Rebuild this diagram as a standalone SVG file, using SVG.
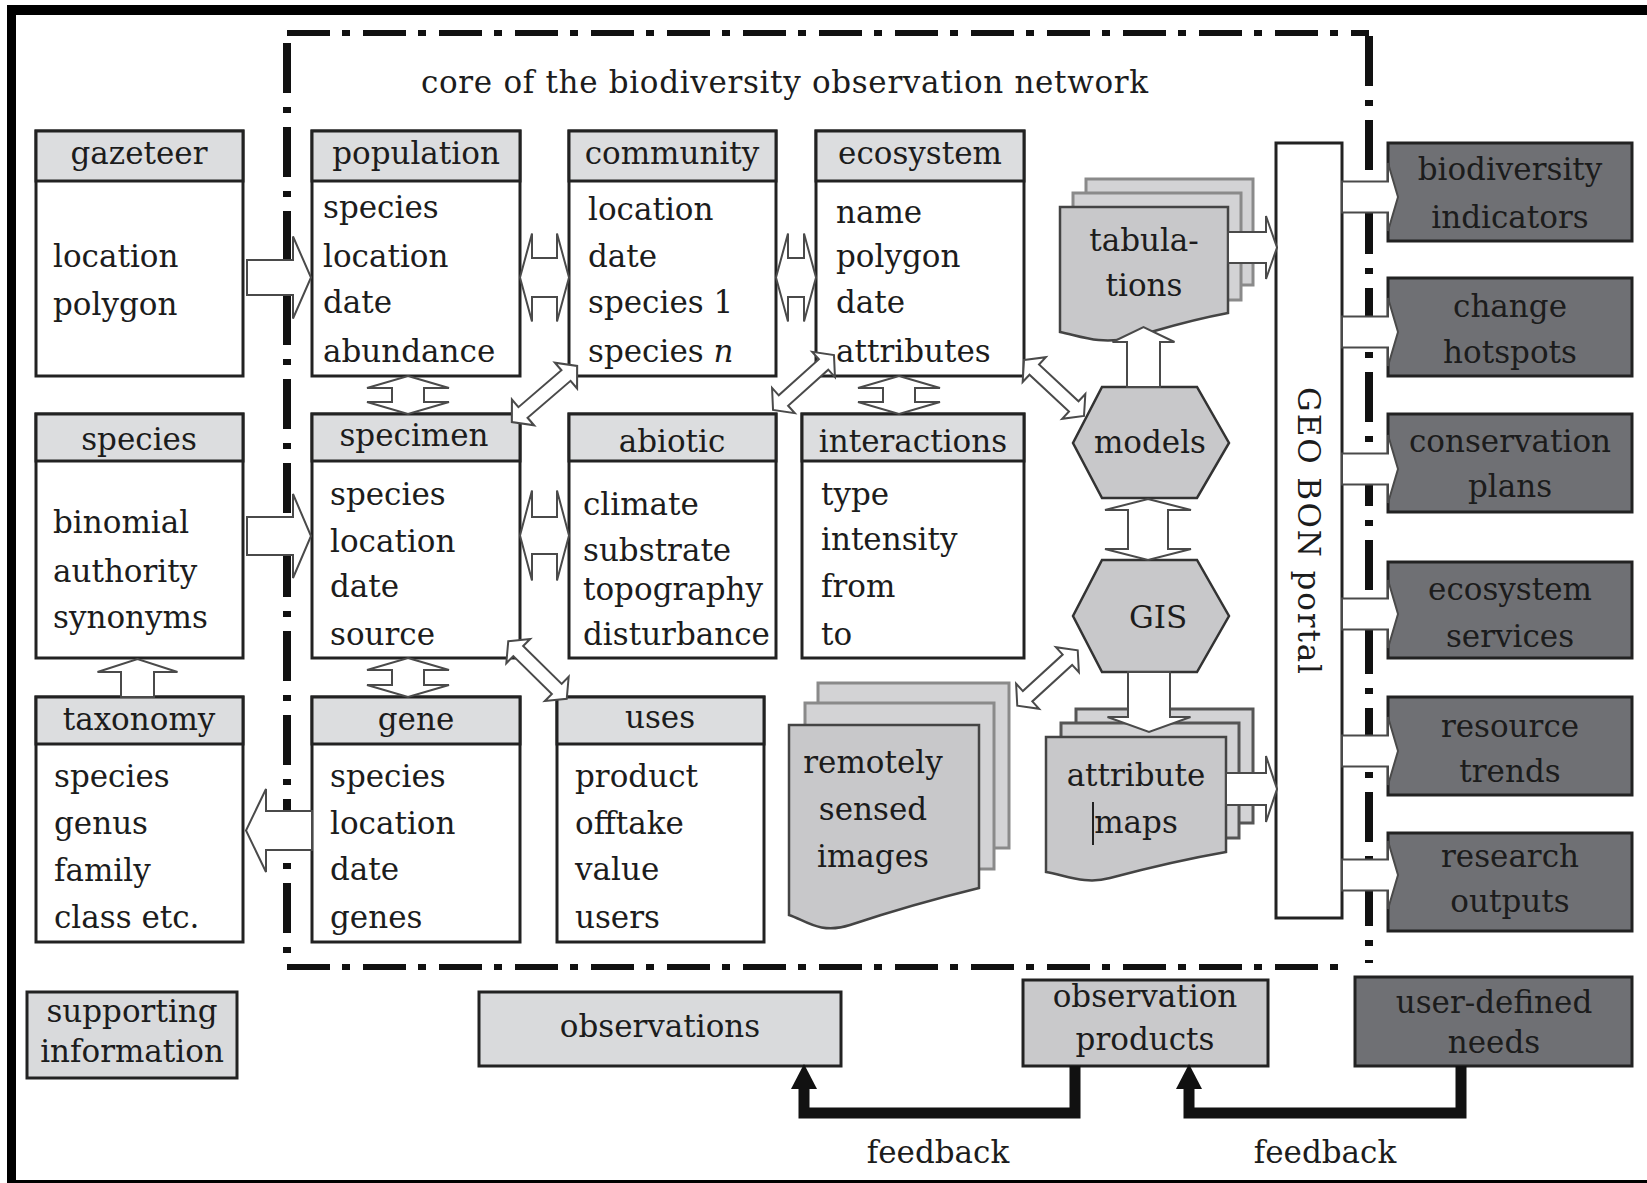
<svg xmlns="http://www.w3.org/2000/svg" xmlns:xlink="http://www.w3.org/1999/xlink" width="1647" height="1183" viewBox="0 0 1647 1183">
<style>
text{font-family:"DejaVu Serif","Liberation Serif",serif;font-size:31px;fill:#1c1c1c}
.c{text-anchor:middle}
.box{fill:#fff;stroke:#222;stroke-width:3}
.hdr{fill:#dcdddf;stroke:#222;stroke-width:3}
.lg{fill:#d9dadc;stroke:#222;stroke-width:3}
.mg{fill:#c9c9cb;stroke:#222;stroke-width:3}
.dk{fill:#6f7074;stroke:#222;stroke-width:3}
.back{fill:#d3d3d5;stroke:#8a8a8a;stroke-width:3}
.backd{fill:#d3d3d5;stroke:#555;stroke-width:3}
.doc{fill:#c8c8ca;stroke:#444;stroke-width:2.5}
.hex{fill:#c8c8ca;stroke:#333;stroke-width:2.5}
.arr{fill:#fff;stroke:#4a4a4a;stroke-width:2;stroke-linejoin:miter}
.fb{fill:none;stroke:#111;stroke-width:11}
.dh{fill:none;stroke:#111;stroke-width:6;stroke-dasharray:43 12 8 13}
.dv{fill:none;stroke:#111;stroke-width:8;stroke-dasharray:50 14 6 14}
</style>
<defs>
<polygon id="dbl" points="-41,0 -27,-17 -27,-7 27,-7 27,-17 41,0 27,17 27,7 -27,7 -27,17"/>
</defs>
<rect width="1647" height="1183" fill="#fff"/>
<g id="frame">
<rect x="7" y="5" width="1640" height="10" fill="#000"/>
<rect x="7" y="5" width="9" height="1178" fill="#000"/>
<rect x="7" y="1180" width="1640" height="3" fill="#000"/>
</g>
<g id="core-boundary">
<line class="dh" x1="287" y1="33" x2="1369" y2="33"/>
<line class="dh" x1="287" y1="967" x2="1345" y2="967"/>
<line class="dv" x1="287" y1="43" x2="287" y2="967"/>
<line class="dv" x1="1369" y1="36" x2="1369" y2="963"/>
<text x="421" y="93" textLength="727">core of the biodiversity observation network</text>
</g>
<g id="gazeteer">
<rect class="box" x="36" y="131" width="207" height="245"/>
<rect class="hdr" x="36" y="131" width="207" height="50"/>
<text class="c" x="139" y="164">gazeteer</text>
<text x="53" y="267">location</text>
<text x="53" y="315">polygon</text>
</g>
<g id="population">
<rect class="box" x="312" y="131" width="208" height="245"/>
<rect class="hdr" x="312" y="131" width="208" height="50"/>
<text class="c" x="416" y="164">population</text>
<text x="323" y="218">species</text>
<text x="323" y="267">location</text>
<text x="323" y="313">date</text>
<text x="323" y="362">abundance</text>
</g>
<g id="community">
<rect class="box" x="569" y="131" width="207" height="245"/>
<rect class="hdr" x="569" y="131" width="207" height="50"/>
<text class="c" x="672" y="164">community</text>
<text x="588" y="220">location</text>
<text x="588" y="267">date</text>
<text x="588" y="313">species 1</text>
<text x="588" y="362">species <tspan font-style="italic">n</tspan></text>
</g>
<g id="ecosystem">
<rect class="box" x="816" y="131" width="208" height="245"/>
<rect class="hdr" x="816" y="131" width="208" height="50"/>
<text class="c" x="920" y="164">ecosystem</text>
<text x="836" y="223">name</text>
<text x="836" y="267">polygon</text>
<text x="836" y="313">date</text>
<text x="836" y="362">attributes</text>
</g>
<g id="species">
<rect class="box" x="36" y="414" width="207" height="244"/>
<rect class="hdr" x="36" y="414" width="207" height="47"/>
<text class="c" x="139" y="450">species</text>
<text x="53" y="533">binomial</text>
<text x="53" y="582">authority</text>
<text x="53" y="628">synonyms</text>
</g>
<g id="specimen">
<rect class="box" x="312" y="414" width="208" height="244"/>
<rect class="hdr" x="312" y="414" width="208" height="47"/>
<text class="c" x="414" y="446">specimen</text>
<text x="330" y="505">species</text>
<text x="330" y="552">location</text>
<text x="330" y="597">date</text>
<text x="330" y="645">source</text>
</g>
<g id="abiotic">
<rect class="box" x="569" y="414" width="207" height="244"/>
<rect class="hdr" x="569" y="414" width="207" height="47"/>
<text class="c" x="672" y="452">abiotic</text>
<text x="583" y="515">climate</text>
<text x="583" y="561">substrate</text>
<text x="583" y="600">topography</text>
<text x="583" y="645">disturbance</text>
</g>
<g id="interactions">
<rect class="box" x="802" y="414" width="222" height="244"/>
<rect class="hdr" x="802" y="414" width="222" height="47"/>
<text class="c" x="913" y="452">interactions</text>
<text x="821" y="505">type</text>
<text x="821" y="550">intensity</text>
<text x="821" y="597">from</text>
<text x="821" y="645">to</text>
</g>
<g id="taxonomy">
<rect class="box" x="36" y="697" width="207" height="245"/>
<rect class="hdr" x="36" y="697" width="207" height="47"/>
<text class="c" x="139" y="730">taxonomy</text>
<text x="54" y="787">species</text>
<text x="54" y="834">genus</text>
<text x="54" y="881">family</text>
<text x="54" y="928">class etc.</text>
</g>
<g id="gene">
<rect class="box" x="312" y="697" width="208" height="245"/>
<rect class="hdr" x="312" y="697" width="208" height="47"/>
<text class="c" x="416" y="730">gene</text>
<text x="330" y="787">species</text>
<text x="330" y="834">location</text>
<text x="330" y="880">date</text>
<text x="330" y="928">genes</text>
</g>
<g id="uses">
<rect class="box" x="557" y="697" width="207" height="245"/>
<rect class="hdr" x="557" y="697" width="207" height="47"/>
<text class="c" x="660" y="728">uses</text>
<text x="575" y="787">product</text>
<text x="575" y="834">offtake</text>
<text x="575" y="880">value</text>
<text x="575" y="928">users</text>
</g>
<g id="tabulations">
<rect class="back" x="1086" y="179" width="167" height="106"/>
<rect class="back" x="1073" y="193" width="168" height="107"/>
<path class="doc" stroke="#333" d="M1060,207 H1228 V313 C1180,322 1160,330 1130,338 C1100,345 1080,336 1060,332 Z"/>
<text class="c" x="1144" y="251">tabula-</text>
<text class="c" x="1144" y="296">tions</text>
</g>
<g id="remotely-sensed-images">
<rect class="back" x="818" y="683" width="191" height="165"/>
<rect class="back" x="805" y="703" width="189" height="166"/>
<path class="doc" stroke="#888" d="M789,725 H979 V888 C930,900 880,915 850,925 C820,935 805,920 789,915 Z"/>
<text class="c" x="873" y="773">remotely</text>
<text class="c" x="873" y="820">sensed</text>
<text class="c" x="873" y="867">images</text>
</g>
<g id="attribute-maps">
<rect class="backd" x="1076" y="709" width="177" height="114"/>
<rect class="backd" x="1061" y="723" width="178" height="115"/>
<path class="doc" stroke="#888" d="M1046,737 H1226 V852 C1180,860 1140,870 1110,878 C1085,885 1065,875 1046,872 Z"/>
<text class="c" x="1136" y="786">attribute</text>
<text class="c" x="1136" y="833">maps</text>
<line x1="1093" y1="802" x2="1093" y2="845" stroke="#222" stroke-width="2"/>
</g>
<g id="models">
<polygon class="hex" points="1102,387 1197,387 1229,443 1197,498 1102,498 1073,443"/>
<text class="c" x="1150" y="453">models</text>
</g>
<g id="GIS">
<polygon class="hex" points="1102,560 1197,560 1229,616 1197,672 1102,672 1073,616"/>
<text class="c" x="1158" y="628">GIS</text>
</g>
<g id="geo-bon-portal">
<rect class="box" x="1276" y="143" width="66" height="775"/>
<text font-size="33" textLength="287" transform="translate(1298,387) rotate(90)">GEO BON portal</text>
</g>
<g id="biodiversity-indicators">
<rect class="dk" x="1388" y="143" width="244" height="98"/>
<text class="c" x="1510" y="180">biodiversity</text>
<text class="c" x="1510" y="228">indicators</text>
</g>
<g id="change-hotspots">
<rect class="dk" x="1388" y="278" width="244" height="98"/>
<text class="c" x="1510" y="317">change</text>
<text class="c" x="1510" y="363">hotspots</text>
</g>
<g id="conservation-plans">
<rect class="dk" x="1388" y="414" width="244" height="98"/>
<text class="c" x="1510" y="452">conservation</text>
<text class="c" x="1510" y="497">plans</text>
</g>
<g id="ecosystem-services">
<rect class="dk" x="1388" y="562" width="244" height="96"/>
<text class="c" x="1510" y="600">ecosystem</text>
<text class="c" x="1510" y="647">services</text>
</g>
<g id="resource-trends">
<rect class="dk" x="1388" y="697" width="244" height="98"/>
<text class="c" x="1510" y="737">resource</text>
<text class="c" x="1510" y="782">trends</text>
</g>
<g id="research-outputs">
<rect class="dk" x="1388" y="833" width="244" height="98"/>
<text class="c" x="1510" y="867">research</text>
<text class="c" x="1510" y="912">outputs</text>
</g>
<g id="supporting-information">
<rect class="lg" x="27" y="992" width="210" height="86"/>
<text class="c" x="132" y="1022">supporting</text>
<text class="c" x="132" y="1062">information</text>
</g>
<g id="observations">
<rect class="lg" x="479" y="992" width="362" height="74"/>
<text class="c" x="660" y="1037">observations</text>
</g>
<g id="observation-products">
<rect class="mg" x="1023" y="980" width="245" height="86"/>
<text class="c" x="1145" y="1007">observation</text>
<text class="c" x="1145" y="1050">products</text>
</g>
<g id="user-defined-needs">
<rect class="dk" x="1355" y="977" width="277" height="89"/>
<text class="c" x="1494" y="1013">user-defined</text>
<text class="c" x="1494" y="1053">needs</text>
</g>
<g id="connectors">
<polygon class="arr" points="247,260 293,260 293,236.5 311,277.5 293,318.5 293,295 247,295"/>
<polygon class="arr" points="247,517 293,517 293,494 311,536 293,578 293,555 247,555"/>
<polygon class="arr" points="312,811 266,811 266,789 246,830.5 266,872 266,850 312,850"/>
<polygon class="arr" points="121,697 121,672 97.5,672 137.5,659 177.5,672 154,672 154,697"/>
<polygon class="arr" points="1228,232 1266,232 1266,216 1277,247.5 1266,279 1266,263 1228,263"/>
<polygon class="arr" points="1226,773 1266,773 1266,756 1277,789 1266,822 1266,805 1226,805"/>
<polygon class="arr" points="1342,181.5 1388,181.5 1388,163 1398,197 1388,231 1388,212.5 1342,212.5"/>
<polygon class="arr" points="1342,316.5 1388,316.5 1388,298 1398,332 1388,366 1388,347.5 1342,347.5"/>
<polygon class="arr" points="1342,453.5 1388,453.5 1388,435 1398,469 1388,503 1388,484.5 1342,484.5"/>
<polygon class="arr" points="1342,598.5 1388,598.5 1388,580 1398,614 1388,648 1388,629.5 1342,629.5"/>
<polygon class="arr" points="1342,735.5 1388,735.5 1388,717 1398,751 1388,785 1388,766.5 1342,766.5"/>
<polygon class="arr" points="1342,859.5 1388,859.5 1388,841 1398,875 1388,909 1388,890.5 1342,890.5"/>
<polygon class="arr" points="1127,387 1127,342 1112.5,342 1143.5,327 1174.5,342 1160,342 1160,387"/>
<polygon class="arr" points="1128,672 1128,717 1107.5,717 1149,732 1190.5,717 1170,717 1170,672"/>
<polygon class="arr" points="408,376 449,388 424,388 424,402 449,402 408,414 367,402 392,402 392,388 367,388"/>
<polygon class="arr" points="408,658 449,670 424,670 424,685 449,685 408,697 367,685 392,685 392,670 367,670"/>
<polygon class="arr" points="899,376 940,388 915,388 915,402 940,402 899,414 858,402 883,402 883,388 858,388"/>
<polygon class="arr" points="1148,499 1191,510 1168,510 1168,549 1191,549 1148,560 1105,549 1128,549 1128,510 1105,510"/>
<polygon class="arr" points="520,277.5 532,233.5 532,258 557,258 557,233.5 569,277.5 557,321.5 557,297 532,297 532,321.5"/>
<polygon class="arr" points="776,277.5 788,233.5 788,258 804,258 804,233.5 816,277.5 804,321.5 804,297 788,297 788,321.5"/>
<polygon class="arr" points="520,535.5 532,490.5 532,517 557,517 557,490.5 569,535.5 557,580.5 557,554 532,554 532,580.5"/>
<use href="#dbl" xlink:href="#dbl" class="arr" transform="translate(544.5,394) rotate(139.3) scale(1.05,1)"/>
<use href="#dbl" xlink:href="#dbl" class="arr" transform="translate(803.5,382.5) rotate(138)"/>
<use href="#dbl" xlink:href="#dbl" class="arr" transform="translate(1054,388) rotate(43)"/>
<use href="#dbl" xlink:href="#dbl" class="arr" transform="translate(537.5,670) rotate(44.5)"/>
<use href="#dbl" xlink:href="#dbl" class="arr" transform="translate(1047.5,678) rotate(137.5)"/>
<path class="fb" d="M1075,1066 V1113 H804 V1084"/>
<polygon fill="#111" points="804,1064 817,1089 791,1089"/>
<path class="fb" d="M1461,1066 V1113 H1189 V1084"/>
<polygon fill="#111" points="1189,1064 1202,1089 1176,1089"/>
<text class="c" x="938" y="1163" font-size="32">feedback</text>
<text class="c" x="1325" y="1163" font-size="32">feedback</text>
</g>
</svg>
